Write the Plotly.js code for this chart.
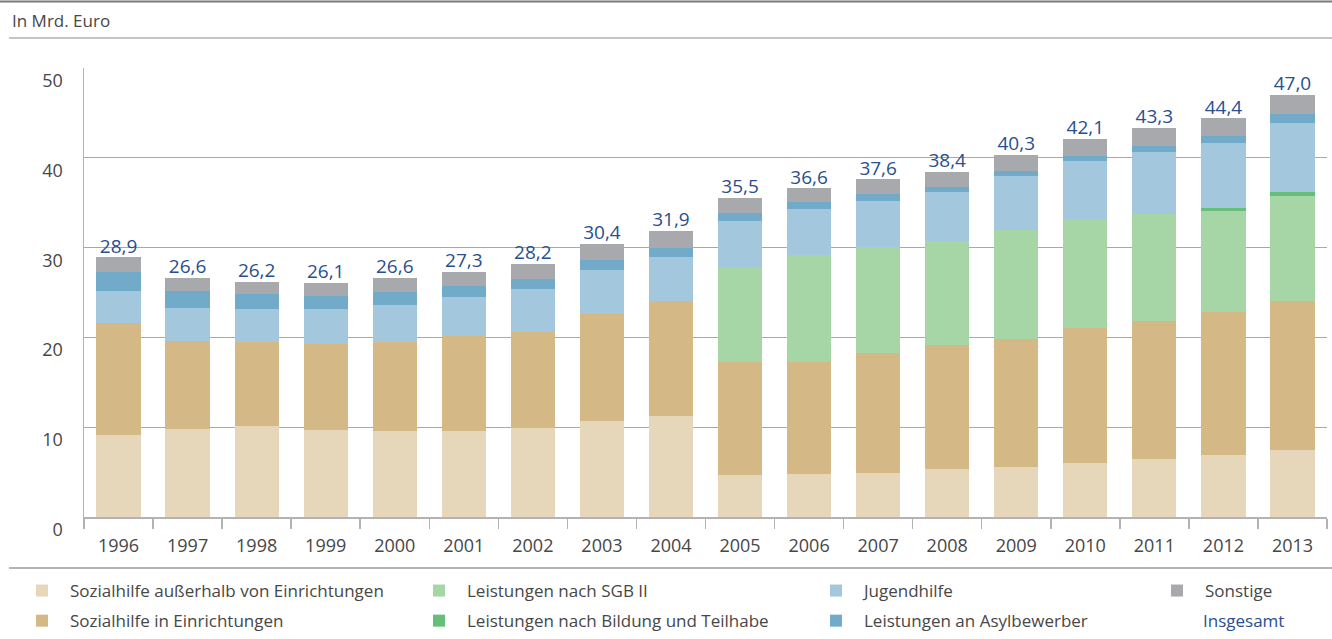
<!DOCTYPE html>
<html>
<head>
<meta charset="utf-8">
<script src="https://cdn.plot.ly/plotly-3.0.1.min.js"></script>
<style>html,body{margin:0;padding:0;background:#fff;}#chart{width:1332px;height:639px;}</style>
</head>
<body>
<div id="chart"></div>
<script>
// ---- Data (Mrd. Euro) ----
const years = ['1996','1997','1998','1999','2000','2001','2002','2003','2004','2005','2006','2007','2008','2009','2010','2011','2012','2013'];
const sozAusserhalb = [9.1, 9.8, 10.15, 9.65, 9.55, 9.55, 9.95, 10.65, 11.25, 4.65, 4.75, 4.85, 5.3, 5.55, 6.0, 6.45, 6.9, 7.45];
const sozIn        = [12.45, 9.75, 9.35, 9.6, 9.95, 10.6, 10.7, 11.95, 12.75, 12.6, 12.55, 13.4, 13.85, 14.25, 15.05, 15.4, 15.9, 16.6];
const sgb2         = [0, 0, 0, 0, 0, 0, 0, 0, 0, 10.6, 11.9, 11.8, 11.6, 12.15, 12.15, 11.9, 11.25, 11.75];
const bildung      = [0, 0, 0, 0, 0, 0, 0, 0, 0, 0, 0, 0, 0, 0, 0, 0, 0.35, 0.35];
const jugendhilfe  = [3.6, 3.7, 3.7, 3.9, 4.1, 4.35, 4.7, 4.9, 4.95, 5.1, 5.1, 5.15, 5.45, 6.0, 6.45, 6.9, 7.25, 7.7];
const asyl         = [2.1, 1.9, 1.65, 1.45, 1.45, 1.25, 1.1, 1.15, 1.0, 0.85, 0.8, 0.75, 0.55, 0.55, 0.55, 0.65, 0.75, 1.0];
const sonstige     = [1.65, 1.45, 1.35, 1.5, 1.55, 1.55, 1.75, 1.75, 1.95, 1.7, 1.5, 1.65, 1.65, 1.8, 1.9, 2.0, 2.0, 2.15];
const insgesamt    = [28.9, 26.6, 26.2, 26.1, 26.6, 27.3, 28.2, 30.4, 31.9, 35.5, 36.6, 37.6, 38.4, 40.3, 42.1, 43.3, 44.4, 47.0];
const yTicks = [0, 10, 20, 30, 40, 50];

// ---- Layout constants ----
const W = 1332, H = 639;
const M = {l: 84, r: 5, t: 68, b: 122, autoexpand: false};
const PW = W - M.l - M.r, PH = H - M.t - M.b;
const px2x = p => (p - M.l) / PW;
const px2y = p => (H - M.b - p) / PH;

const FONT = 'Open Sans, Noto Sans, DejaVu Sans, sans-serif';
const TXT = '#474747';
const BLUE = '#284f8f';

function bar(name, y, color, legend) {
  return {type: 'bar', name: name, x: years, y: y, legend: legend, legendgroup: name,
    marker: {color: color, line: {width: 0}}, hoverinfo: 'skip'};
}

const traces = [
  bar('Sozialhilfe außerhalb von Einrichtungen', sozAusserhalb, '#e6d7bb', 'legend'),
  bar('Sozialhilfe in Einrichtungen', sozIn, '#d4b987', 'legend'),
  bar('Leistungen nach SGB II', sgb2, '#a6d5a6', 'legend2'),
  bar('Leistungen nach Bildung und Teilhabe', bildung, '#66bf78', 'legend2'),
  bar('Jugendhilfe', jugendhilfe, '#a3c8dd', 'legend3'),
  bar('Leistungen an Asylbewerber', asyl, '#72abca', 'legend3'),
  bar('Sonstige', sonstige, '#a8a9ad', 'legend4'),
  {type: 'scatter', mode: 'text', name: 'Insgesamt', x: years, y: insgesamt,
   texttemplate: '%{y:.1f}', textposition: 'top center', showlegend: false,
   textfont: {family: FONT, size: 19, color: BLUE}, hoverinfo: 'skip', cliponaxis: false}
];

function legendAt(textPx) {
  return {x: px2x(textPx - 56), xanchor: 'left', y: px2y(573), yanchor: 'top',
    orientation: 'v', bgcolor: 'rgba(0,0,0,0)', borderwidth: 0, itemwidth: 46,
    traceorder: 'grouped', tracegroupgap: 5,
    font: {family: FONT, size: 17, color: TXT}, itemclick: false};
}

const layout = {
  width: W, height: H,
  margin: M,
  paper_bgcolor: '#fff', plot_bgcolor: '#fff',
  separators: ',.',
  barmode: 'stack', bargap: 0.36,
  font: {family: FONT, size: 18, color: TXT},
  title: {text: 'In Mrd. Euro', x: 12 / W, xanchor: 'left', xref: 'container',
          y: 1 - 21 / H, yanchor: 'middle', yref: 'container',
          font: {family: FONT, size: 17, color: TXT}},
  xaxis: {type: 'category', range: [-0.5, years.length - 0.5], autorange: false,
          showgrid: false, showline: true, linecolor: '#b3b3b3', linewidth: 1.5,
          ticks: 'outside', tickson: 'boundaries', ticklen: 10, tickcolor: '#b3b3b3', tickwidth: 1.5,
          ticklabelstandoff: 12,
          tickfont: {family: FONT, size: 18, color: TXT}, fixedrange: true},
  yaxis: {range: [0, 50], autorange: false, tickvals: yTicks, showgrid: true, gridcolor: '#a9a9a9', gridwidth: 1,
          showline: true, linecolor: '#b3b3b3', linewidth: 1.5, zeroline: false, ticks: '',
          ticklabelposition: 'outside bottom', ticklabelstandoff: 16,
          tickfont: {family: FONT, size: 18, color: TXT}, fixedrange: true},
  legend: legendAt(70),
  legend2: legendAt(467),
  legend3: legendAt(864),
  legend4: legendAt(1205),
  annotations: [
    {text: 'Insgesamt', xref: 'paper', yref: 'paper', x: px2x(1201), y: px2y(620),
     xanchor: 'left', yanchor: 'middle', showarrow: false,
     font: {family: FONT, size: 17, color: BLUE}}
  ],
  shapes: [
    {type: 'line', xref: 'paper', yref: 'paper', x0: px2x(0), x1: px2x(W), y0: px2y(1.5), y1: px2y(1.5),
     line: {color: '#7a7a7a', width: 2}},
    {type: 'line', xref: 'paper', yref: 'paper', x0: px2x(9), x1: px2x(W), y0: px2y(38), y1: px2y(38),
     line: {color: '#b0b0b0', width: 1.5}},
    {type: 'line', xref: 'paper', yref: 'paper', x0: px2x(9), x1: px2x(W), y0: px2y(568), y1: px2y(568),
     line: {color: '#9a9a9a', width: 1.5}}
  ]
};

Plotly.newPlot('chart', traces, layout, {displayModeBar: false, staticPlot: true});
</script>
</body>
</html>
